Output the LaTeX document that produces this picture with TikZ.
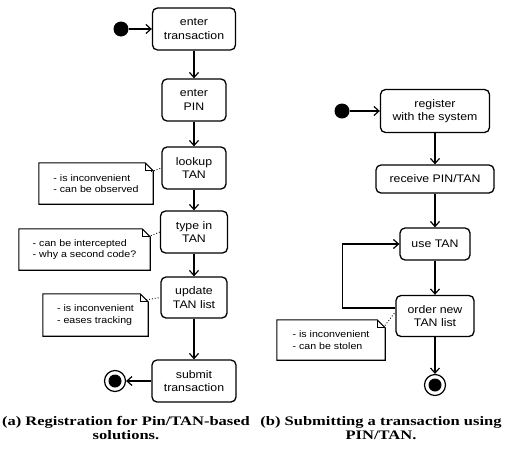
\documentclass[tikz,border=0pt]{standalone}
\usepackage{fontspec}
\setmainfont{Liberation Serif}
\newfontfamily\sansf[FakeStretch=1.12]{Liberation Sans}
\newfontfamily\capf[FakeStretch=1.27]{Liberation Serif}
\usetikzlibrary{arrows.meta,calc}
\tikzset{
  act/.style={draw, rounded corners=5pt, line width=1.3pt, align=center, font=\sansf\fontsize{11}{13.5}\selectfont, inner sep=1pt},
  notebox/.style={draw=none, align=left, font=\sansf\fontsize{9.5}{11.5}\selectfont, inner sep=1pt},
  notel/.style={line width=1.1pt, line join=miter},
  arr/.style={line width=1.2pt, -{Straight Barb[length=5pt,width=9pt,line width=1.2pt]}},
  dots/.style={dotted, line width=0.9pt},
  startdot/.style={circle, fill=black, minimum size=15pt, inner sep=0pt},
  enddot/.style={circle, draw, line width=1.2pt, minimum size=21pt, inner sep=0pt},
  captext/.style={align=center, font=\capf\bfseries\fontsize{13}{14}\selectfont, inner sep=0pt}
}
\newcommand\dognote[1]{%
  \draw[notel] (#1.north west) -- ([xshift=-8pt]#1.north east) -- ([yshift=-8pt]#1.north east) -- (#1.south east) -- (#1.south west) -- cycle;
  \draw[line width=0.7pt] ([xshift=-8pt]#1.north east) -- ([xshift=-8pt,yshift=-8pt]#1.north east) -- ([yshift=-8pt]#1.north east);}
\begin{document}
\begin{tikzpicture}[x=1pt,y=-1pt]
\useasboundingbox (0,0) rectangle (506,450);
% left column
\node[startdot] (s1) at (121,29) {};
\node[act, minimum width=83pt, minimum height=42pt] (et) at (194,29) {enter\\transaction};
\node[act, minimum width=64pt, minimum height=42pt] (ep) at (194,100) {enter\\PIN};
\node[act, minimum width=64pt, minimum height=42pt] (lt) at (194,168) {lookup\\TAN};
\node[act, minimum width=67pt, minimum height=42pt] (ti) at (194,232) {type in\\TAN};
\node[act, minimum width=66pt, minimum height=41pt] (ul) at (194,297.5) {update\\TAN list};
\node[act, minimum width=84pt, minimum height=42pt] (st) at (194,381) {submit\\transaction};
\node[enddot] (e1) at (115,381) {};
\fill (e1.center) circle (6.5pt);
\draw[arr] (s1) -- (et);
\draw[arr] (et) -- (ep);
\draw[arr] (ep) -- (lt);
\draw[arr] (lt) -- (ti);
\draw[arr] (ti) -- (ul);
\draw[arr] (ul) -- (st);
\draw[arr] (st) -- (e1);
% notes left
\node[notebox, minimum width=114pt, minimum height=41pt] (n1) at (96,183.5) {- is inconvenient\\- can be observed};
\dognote{n1}
\node[notebox, minimum width=131pt, minimum height=41pt] (n2) at (84.5,249.5) {- can be intercepted\\- why a second code?};
\dognote{n2}
\node[notebox, minimum width=105pt, minimum height=42pt] (n3) at (95.5,315) {- is inconvenient\\- eases tracking};
\dognote{n3}
\draw[dots] ([xshift=-2pt,yshift=-9pt]n1.north east) -- (lt.west);
\draw[dots] ([xshift=-2pt,yshift=-8pt]n2.north east) -- (ti.west);
\draw[dots] ([xshift=-2pt,yshift=-6pt]n3.north east) -- (ul.west);
% right column
\node[startdot] (s2) at (342,111) {};
\node[act, minimum width=109pt, minimum height=43pt] (rg) at (435,111) {register\\with the system};
\node[act, minimum width=118pt, minimum height=28pt] (rc) at (435,179) {receive PIN/TAN};
\node[act, minimum width=70pt, minimum height=32pt] (us) at (435,244) {use TAN};
\node[act, minimum width=78pt, minimum height=41pt] (od) at (435,316) {order new\\TAN list};
\node[enddot] (e2) at (435,385) {};
\fill (e2.center) circle (6.5pt);
\draw[arr] (s2) -- (rg);
\draw[arr] (rg) -- (rc);
\draw[arr] (rc) -- (us);
\draw[arr] (us) -- (od);
\draw[arr] (od) -- (e2);
\draw[arr] ([yshift=8pt]od.west) -- ++(-53,0) |- (us.west);
\node[notebox, minimum width=108pt, minimum height=40pt] (n4) at (331,340) {- is inconvenient\\- can be stolen};
\dognote{n4}
\draw[dots] ([xshift=-2pt,yshift=-8pt]n4.north east) -- ([yshift=4pt]od.west);
% captions
\node[captext] (ca) at (126,428.5) {(a) Registration for Pin/TAN-based\\solutions.};
\node[captext] (cb) at (381,428.5) {(b) Submitting a transaction using\\PIN/TAN.};
\end{tikzpicture}
\end{document}
